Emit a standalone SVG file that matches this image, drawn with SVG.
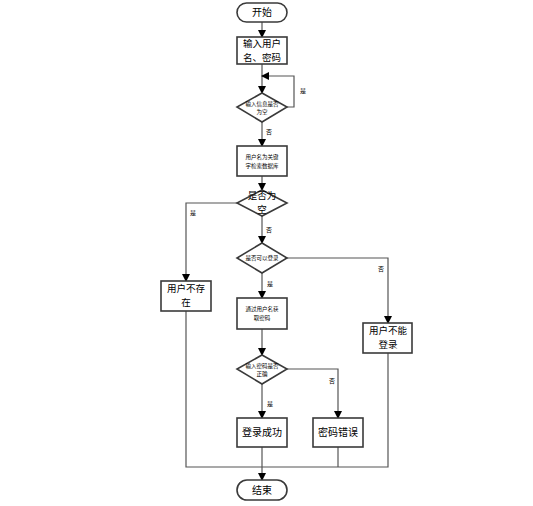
<svg xmlns="http://www.w3.org/2000/svg" width="533" height="506" viewBox="0 0 533 506">
<defs>
<marker id="arr" markerWidth="8" markerHeight="8" refX="7" refY="4" orient="auto" markerUnits="userSpaceOnUse">
<path d="M0,0 L8,4 L0,8 Z" fill="#000"/>
</marker>
<style>
.n{fill:#fff;stroke:#3a3a3a;stroke-width:1.6}
.c{fill:none;stroke:#555;stroke-width:1.2}
.t{font-family:"Noto Sans CJK SC","Liberation Sans",sans-serif;fill:#000;text-anchor:middle}
.m{font-size:10px}
.m2{font-size:9.5px}
.s{font-size:5.5px}
.l{font-size:6px;font-family:"Noto Sans CJK SC","Liberation Sans",sans-serif;fill:#000}
</style>
</defs>
<rect width="533" height="506" fill="#fff"/>
<g id="connectors">
<path class="c" d="M262,21 V37" marker-end="url(#arr)"/>
<path class="c" d="M262,64 V93" marker-end="url(#arr)"/>
<path class="c" d="M287,107 H294 V76 H262" marker-end="url(#arr)"/>
<path class="c" d="M262,122 V146" marker-end="url(#arr)"/>
<path class="c" d="M262,176 V190" marker-end="url(#arr)"/>
<path class="c" d="M237,203 H186 V281" marker-end="url(#arr)"/>
<path class="c" d="M262,216 V243" marker-end="url(#arr)"/>
<path class="c" d="M287,258 H388 V323" marker-end="url(#arr)"/>
<path class="c" d="M262,273 V298" marker-end="url(#arr)"/>
<path class="c" d="M262,329 V355" marker-end="url(#arr)"/>
<path class="c" d="M287,369 H338 V418" marker-end="url(#arr)"/>
<path class="c" d="M262,384 V418" marker-end="url(#arr)"/>
<path class="c" d="M186,311 V467 H388 V353"/>
<path class="c" d="M338,447 V467"/>
<path class="c" d="M262,447 V480" marker-end="url(#arr)"/>
<text class="l" x="300" y="93">是</text>
<text class="l" x="266" y="134">否</text>
<text class="l" x="190" y="215">是</text>
<text class="l" x="266" y="232">否</text>
<text class="l" x="378" y="271">否</text>
<text class="l" x="267" y="286">是</text>
<text class="l" x="329" y="383">否</text>
<text class="l" x="267" y="406">是</text>
</g>
<g id="start">
<rect class="n" x="237" y="3" width="50" height="19" rx="9.5"/>
<text class="t m" x="262" y="16">开始</text>
</g>
<g id="input">
<rect class="n" x="237" y="37" width="50" height="27"/>
<text class="t m2" x="262" y="47">输入用户</text>
<text class="t m2" x="262" y="61">名、密码</text>
</g>
<g id="check-empty-input">
<polygon class="n" points="262,93 287,107 262,122 237,107"/>
<text class="t s" x="262" y="106">输入信息是否</text>
<text class="t s" x="262" y="114">为空</text>
</g>
<g id="search-db">
<rect class="n" x="237" y="146" width="50" height="30"/>
<text class="t s" x="262" y="159">用户名为关键</text>
<text class="t s" x="262" y="168">字检索数据库</text>
</g>
<g id="is-empty">
<polygon class="n" points="262,190 287,203 262,216 237,203"/>
<text class="t m2" x="262" y="199">是否为</text>
<text class="t m2" x="262" y="213">空</text>
</g>
<g id="can-login">
<polygon class="n" points="262,243 287,258 262,273 237,258"/>
<text class="t s" x="262" y="260">是否可以登录</text>
</g>
<g id="user-not-exist">
<rect class="n" x="161" y="281" width="50" height="30"/>
<text class="t m2" x="186" y="292">用户不存</text>
<text class="t m2" x="186" y="306">在</text>
</g>
<g id="get-password">
<rect class="n" x="237" y="298" width="50" height="31"/>
<text class="t s" x="262" y="311">通过用户名获</text>
<text class="t s" x="262" y="320">取密码</text>
</g>
<g id="cannot-login">
<rect class="n" x="363" y="323" width="49" height="30"/>
<text class="t m2" x="388" y="334">用户不能</text>
<text class="t m2" x="388" y="348">登录</text>
</g>
<g id="check-password">
<polygon class="n" points="262,355 287,369 262,384 237,369"/>
<text class="t s" x="262" y="368">输入密码是否</text>
<text class="t s" x="262" y="376">正确</text>
</g>
<g id="login-success">
<rect class="n" x="237" y="418" width="50" height="29"/>
<text class="t m" x="262" y="436">登录成功</text>
</g>
<g id="password-error">
<rect class="n" x="313" y="418" width="50" height="29"/>
<text class="t m" x="338" y="436">密码错误</text>
</g>
<g id="end">
<rect class="n" x="237" y="480" width="50" height="20" rx="10"/>
<text class="t m" x="262" y="494">结束</text>
</g>
</svg>
